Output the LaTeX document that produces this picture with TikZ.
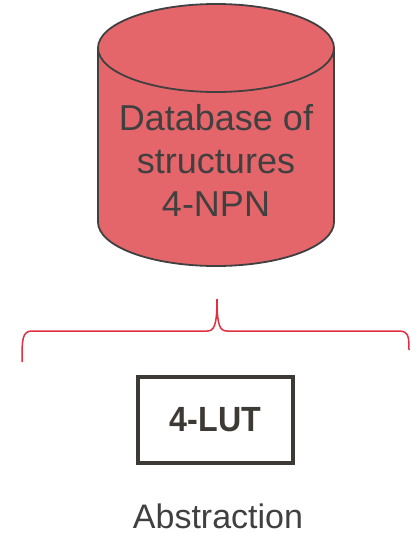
\documentclass[tikz,border=0pt]{standalone}
\usepackage{fontspec}
\setmainfont{Liberation Sans}
\definecolor{dbfill}{HTML}{E5666A}
\definecolor{ink}{HTML}{404040}
\definecolor{boxink}{HTML}{3D3935}
\definecolor{bracered}{HTML}{E0303F}
\tikzset{
  dbline/.style={draw=ink, line width=1.8pt},
  bracestyle/.style={draw=bracered, line width=1.5pt},
  lutbox/.style={draw=boxink, line width=4pt, minimum width=155pt, minimum height=86pt, inner sep=0pt},
}
\begin{document}
\begin{tikzpicture}[x=1pt,y=-1pt]
\useasboundingbox (0,0) rectangle (410,533);
% database cylinder
\fill[dbfill] (98,48) -- (98,222) arc[start angle=180,end angle=0,x radius=118,y radius=44] -- (334,48) arc[start angle=0,end angle=-180,x radius=118,y radius=44] -- cycle;
\draw[dbline] (98,48) -- (98,222) arc[start angle=180,end angle=0,x radius=118,y radius=44] -- (334,48);
\draw[dbline] (216,48) ellipse[x radius=118,y radius=44];
\node[text=ink, align=center, font=\fontsize{36}{43}\selectfont] (db) at (216,160) {Database of\\structures\\4-NPN};
% brace
\coordinate (tip) at (217,299);
\coordinate (lend) at (22,362);
\coordinate (rend) at (409,350);
\draw[bracestyle] (lend) .. controls (22,340) and (22,331) .. (32,331) -- (207,331)
  .. controls (214,331) and (217,326) .. (tip)
  .. controls (217,326) and (220,331) .. (227,331) -- (399,331)
  .. controls (409,331) and (409,338) .. (rend);
% abstraction box
\node[lutbox] (lut) at (215.5,420) {};
\node[text=boxink, xscale=0.92, font=\fontsize{35}{40}\selectfont\bfseries] (lutlabel) at (lut.center) {4-LUT};
\node[text=ink, inner sep=0pt, font=\fontsize{34}{40}\selectfont] (abs) at (218,516) {Abstraction};
\end{tikzpicture}
\end{document}
